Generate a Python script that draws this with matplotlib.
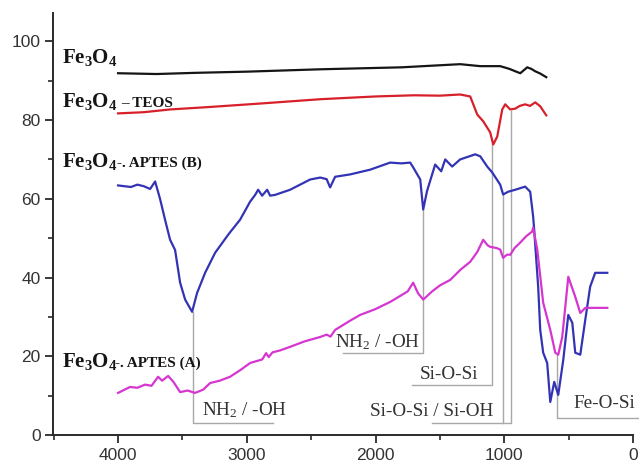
# ==========================================================
# FTIR SPECTRA - Fe3O4 / TEOS / APTES
# ==========================================================

import matplotlib
matplotlib.use("Agg")

import matplotlib.pyplot as plt
from matplotlib.ticker import MultipleLocator

# ==========================================================
# DATA (wavenumber cm-1 , transmittance %)
# ==========================================================

fe3o4_wn = [4000, 3700, 3400, 3000, 2430, 1800, 1343, 1187, 1032, 960,
            915, 876, 822, 790, 760, 720, 674]
fe3o4_t = [91.9, 91.7, 92.0, 92.3, 92.9, 93.4, 94.2, 93.7, 93.7, 93.0,
           92.4, 91.9, 93.4, 93.0, 92.4, 91.8, 90.9]

teos_wn = [4000, 3800, 3596, 3300, 2897, 2430, 2000, 1700, 1500, 1343,
           1265, 1210, 1164, 1110, 1086, 1055, 1016, 993, 954, 915,
           880, 838, 800, 760, 721, 674]
teos_t = [81.7, 82.0, 82.7, 83.3, 84.2, 85.3, 86.0, 86.3, 86.2, 86.5,
          86.0, 81.4, 79.7, 76.9, 73.8, 75.8, 82.7, 84.0, 82.7, 82.9,
          83.6, 84.0, 83.6, 84.5, 83.5, 81.2]

aptes_b_wn = [4000, 3900, 3850, 3800, 3751, 3712, 3674, 3635, 3596, 3557,
              3518, 3479, 3425, 3386, 3324, 3246, 3153, 3130, 3052, 2974,
              2935, 2912, 2881, 2842, 2819, 2780, 2664, 2508, 2430, 2380,
              2353, 2314, 2197, 2042, 1887, 1800, 1731, 1708, 1653, 1630,
              1600, 1537, 1490, 1459, 1405, 1343, 1226, 1187, 1133, 1094,
              1032, 1009, 970, 915, 838, 799, 776, 768, 737, 721,
              698, 667, 643, 612, 581, 542, 503, 472, 449, 410,
              371, 333, 294, 200]
aptes_b_t = [63.4, 63.0, 63.6, 63.2, 62.5, 64.4, 60.0, 54.7, 49.6, 47.0,
             38.7, 34.4, 31.3, 36.1, 41.2, 46.3, 50.5, 51.5, 54.7, 59.3,
             61.0, 62.3, 60.8, 62.3, 60.8, 61.0, 62.3, 64.9, 65.4, 65.0,
             62.9, 65.6, 66.2, 67.4, 69.2, 69.0, 69.2, 68.0, 64.9, 57.3,
             62.0, 68.7, 67.0, 70.0, 68.2, 70.0, 71.3, 70.8, 68.2, 66.7,
             63.6, 61.1, 61.8, 62.3, 63.1, 61.8, 55.5, 52.2, 37.7, 26.7,
             20.9, 18.3, 8.4, 13.5, 10.2, 19.1, 30.5, 28.5, 20.9, 20.4,
             29.3, 37.7, 41.2, 41.2]

aptes_a_wn = [4000, 3907, 3850, 3790, 3740, 3689, 3658, 3611, 3570, 3518,
              3460, 3402, 3340, 3285, 3210, 3130, 3050, 2974, 2880, 2850,
              2830, 2800, 2740, 2664, 2550, 2430, 2380, 2350, 2314, 2200,
              2120, 2000, 1887, 1800, 1750, 1708, 1670, 1630, 1560, 1500,
              1420, 1340, 1265, 1210, 1164, 1130, 1110, 1060, 1032, 1009,
              980, 954, 920, 876, 830, 783, 776, 744, 698, 643,
              604, 581, 550, 503, 449, 410, 371, 333, 200]
aptes_a_t = [10.7, 12.2, 12.0, 12.8, 12.5, 14.8, 13.8, 15.0, 13.5, 10.9,
             11.3, 10.7, 11.5, 13.2, 13.8, 14.8, 16.5, 18.3, 19.2, 20.8,
             19.8, 21.0, 21.5, 22.4, 23.8, 24.9, 25.5, 25.0, 26.7, 29.0,
             30.5, 32.0, 33.8, 35.5, 36.5, 38.7, 36.0, 34.4, 36.5, 38.0,
             39.4, 42.0, 44.0, 46.5, 49.6, 48.2, 47.8, 47.5, 47.1, 45.0,
             45.8, 45.8, 47.5, 48.9, 50.5, 51.7, 52.7, 47.1, 33.6, 26.7,
             20.9, 20.4, 24.9, 40.2, 35.1, 31.0, 32.3, 32.3, 32.3]

# band assignments: text, text position, guide line path
band_labels = ["NH$_2$ / -OH", "NH$_2$ / -OH", "Si-O-Si",
               "Si-O-Si / Si-OH", "Fe-O-Si"]
band_text_xy = [(3347, 6.4), (2314, 23.7), (1653, 15.3),
                (2042, 5.9), (465, 8.1)]
band_paths = [
    [([3417, 3417, 2796], [31.3, 3.0, 3.0])],
    [([1630, 1630, 2252], [57.3, 20.9, 20.9])],
    [([1094, 1094, 1716], [73.8, 12.7, 12.7])],
    [([1009, 1009], [61.1, 3.0]),
     ([946, 946, 1560], [82.2, 3.0, 3.0])],
    [([589, 589, -35], [20.4, 4.3, 4.3])],
]

# sample names: main formula, suffix
sample_suffix = ["", "\u2013 TEOS", "-. APTES (B)", "-. APTES (A)"]
sample_baseline = [94.4, 83.2, 68.0, 17.3]
sample_suffix_x = [3977, 3977, 4008, 4023]

# ==========================================================
# STYLE
# ==========================================================

plt.rcParams["mathtext.fontset"] = "custom"
plt.rcParams["mathtext.rm"] = "Liberation Serif"
plt.rcParams["mathtext.it"] = "Liberation Serif:italic"
plt.rcParams["mathtext.bf"] = "Liberation Serif:bold"

SERIF = "Liberation Serif"
GUIDE = "#a8a8a8"
AXIS = "#2a2a2a"

# ==========================================================
# PLOT
# ==========================================================

def main():

    fig = plt.figure(figsize=(6.39, 4.66), dpi=100)

    ax = fig.add_axes([0.083, 0.0665, 0.9077, 0.9056])

    # guide lines first, spectra on top
    for paths in band_paths:
        for xs, ys in paths:
            ax.plot(xs, ys, color=GUIDE, linewidth=1.0, zorder=1,
                    clip_on=False)

    ax.plot(fe3o4_wn, fe3o4_t, color="#151515", linewidth=1.6, zorder=3)
    ax.plot(teos_wn, teos_t, color="#d8202a", linewidth=1.6, zorder=3)
    ax.plot(aptes_b_wn, aptes_b_t, color="#3333b5", linewidth=1.6, zorder=3)
    ax.plot(aptes_a_wn, aptes_a_t, color="#d636d0", linewidth=1.6, zorder=3)

    for label, (tx, ty) in zip(band_labels, band_text_xy):
        ax.text(tx, ty, label, family=SERIF, fontsize=13.8, color="#333333",
                ha="left", va="center", zorder=2)

    for suffix, base, sx in zip(sample_suffix, sample_baseline,
                                sample_suffix_x):
        ax.text(4435, base, r"$\mathbf{Fe_3O_4}$", fontsize=15,
                color="#151515", ha="left", va="baseline", zorder=4)
        if suffix:
            ax.text(sx, base, suffix, family=SERIF, fontweight="bold",
                    fontsize=11, color="#151515", ha="left",
                    va="baseline", zorder=4)

    # axes
    ax.set_xlim(4505, 0)
    ax.set_ylim(0, 107.2)

    ax.xaxis.set_major_locator(MultipleLocator(1000))
    ax.xaxis.set_minor_locator(MultipleLocator(500))
    ax.yaxis.set_major_locator(MultipleLocator(20))
    ax.yaxis.set_minor_locator(MultipleLocator(10))

    ax.spines["top"].set_visible(False)
    ax.spines["right"].set_visible(False)
    for side in ["left", "bottom"]:
        ax.spines[side].set_linewidth(1.4)
        ax.spines[side].set_color(AXIS)

    ax.tick_params(which="major", direction="out", length=6, width=1.3,
                   color=AXIS, labelsize=12.5, labelcolor="#333333", pad=3)
    ax.tick_params(which="minor", direction="out", length=3.5, width=1.2,
                   color=AXIS)

    for lab in ax.get_xticklabels() + ax.get_yticklabels():
        lab.set_family("Liberation Sans")

    fig.savefig("out.png", dpi=100)
    plt.close(fig)


if __name__ == "__main__":

    main()
